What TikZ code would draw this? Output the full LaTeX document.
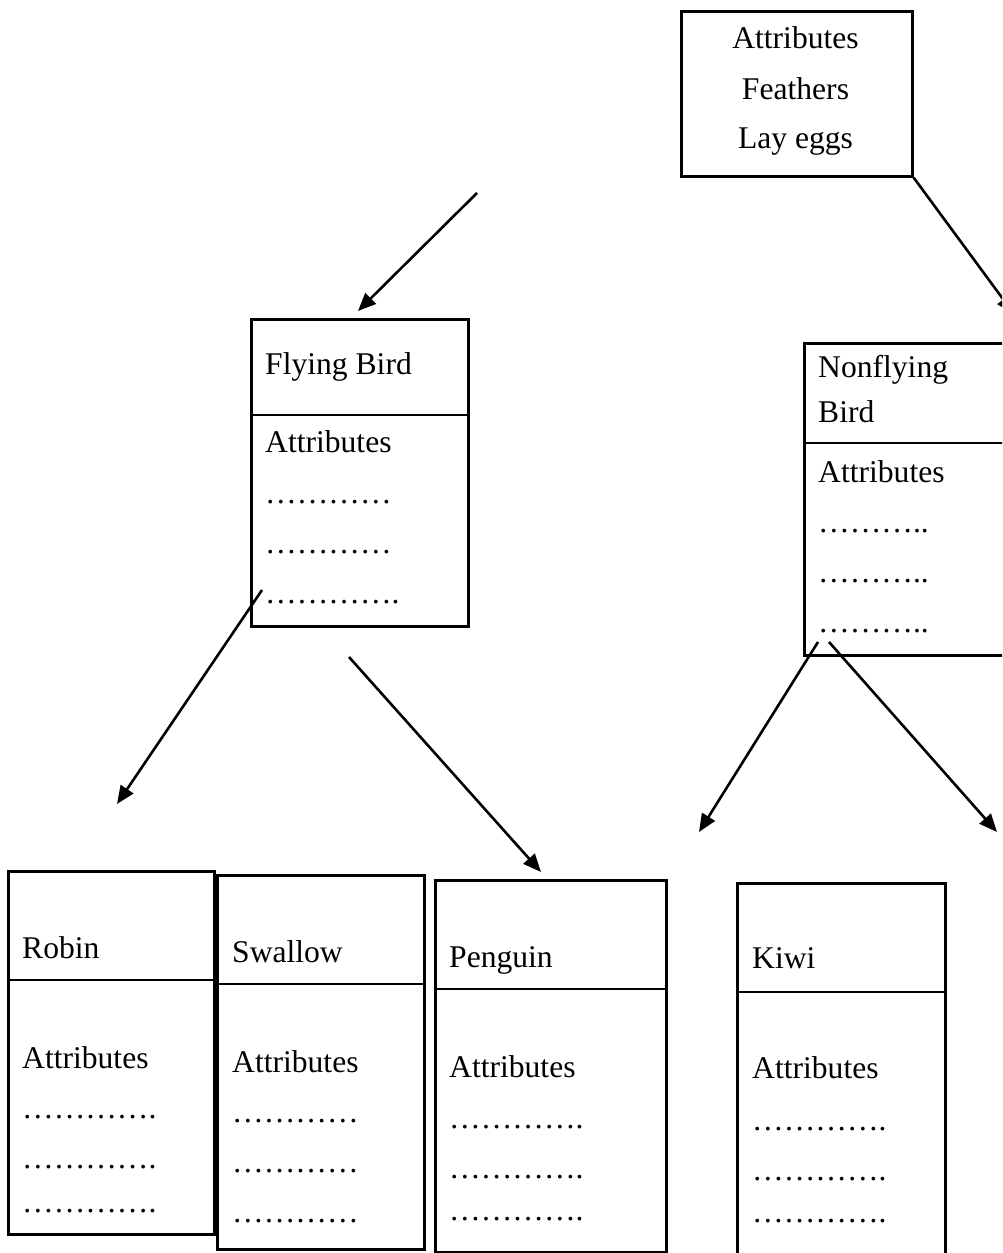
\documentclass[tikz,border=0pt]{standalone}
\usepackage{fontspec}
\setmainfont{Liberation Serif}
\usetikzlibrary{arrows.meta}

\tikzset{
  classbox/.style={draw, line width=2.7pt, inner sep=0pt, anchor=north west},
  divider/.style={line width=2.7pt},
  lbl/.style={inner sep=0pt, anchor=base west, font=\fontsize{31.6}{38}\selectfont},
  clbl/.style={lbl, anchor=base},
  link/.style={line width=2.6pt, -{Triangle[length=18pt,width=15pt]}},
}

\begin{document}
\begin{tikzpicture}[x=1pt,y=-1pt]
\clip (0,0) rectangle (1002,1253);
\fill[white] (0,0) rectangle (1002,1253);

% root class
\node[classbox, minimum width=231pt, minimum height=165pt] (root) at (680,10) {};
\node[clbl] (rootA) at (795.5,48) {Attributes};
\node[clbl] (rootF) at (795.5,99) {Feathers};
\node[clbl] (rootL) at (795.5,148) {Lay eggs};

% flying bird
\node[classbox, minimum width=217pt, minimum height=307pt] (fly) at (250,318) {};
\draw[divider] (fly.west |- 0,415) -- (fly.east |- 0,415);
\node[lbl] (flyN) at (265,374) {Flying Bird};
\node[lbl] (flyA) at (265,452) {Attributes};
\node[lbl] (flyD1) at (265,503) {…………};
\node[lbl] (flyD2) at (265,553) {…………};
\node[lbl] (flyD3) at (265,603) {………….};

% nonflying bird
\node[classbox, minimum width=220pt, minimum height=312pt] (nonfly) at (803,342) {};
\draw[divider] (nonfly.west |- 0,443) -- (nonfly.east |- 0,443);
\node[lbl] (nonN1) at (818,377) {Nonflying};
\node[lbl] (nonN2) at (818,422) {Bird};
\node[lbl] (nonA) at (818,482) {Attributes};
\node[lbl] (nonD1) at (818,532) {………..};
\node[lbl] (nonD2) at (818,582) {………..};
\node[lbl] (nonD3) at (818,632) {………..};

% robin
\node[classbox, minimum width=206pt, minimum height=363pt] (robin) at (7,870) {};
\draw[divider] (robin.west |- 0,980) -- (robin.east |- 0,980);
\node[lbl] (robN) at (22,958) {Robin};
\node[lbl] (robA) at (22,1068) {Attributes};
\node[lbl] (robD1) at (22,1118) {………….};
\node[lbl] (robD2) at (22,1168) {………….};
\node[lbl] (robD3) at (22,1212) {………….};

% swallow
\node[classbox, minimum width=207pt, minimum height=374pt] (swal) at (216,874) {};
\draw[divider] (swal.west |- 0,984) -- (swal.east |- 0,984);
\node[lbl] (swaN) at (232,962) {Swallow};
\node[lbl] (swaA) at (232,1072) {Attributes};
\node[lbl] (swaD1) at (232,1122) {…………};
\node[lbl] (swaD2) at (232,1172) {…………};
\node[lbl] (swaD3) at (232,1222) {…………};

% penguin
\node[classbox, minimum width=231pt, minimum height=372pt] (peng) at (434,879) {};
\draw[divider] (peng.west |- 0,989) -- (peng.east |- 0,989);
\node[lbl] (penN) at (449,967) {Penguin};
\node[lbl] (penA) at (449,1077) {Attributes};
\node[lbl] (penD1) at (449,1128) {………….};
\node[lbl] (penD2) at (449,1178) {………….};
\node[lbl] (penD3) at (449,1220) {………….};

% kiwi
\node[classbox, minimum width=208pt, minimum height=400pt] (kiwi) at (736,882) {};
\draw[divider] (kiwi.west |- 0,992) -- (kiwi.east |- 0,992);
\node[lbl] (kiwN) at (752,968) {Kiwi};
\node[lbl] (kiwA) at (752,1078) {Attributes};
\node[lbl] (kiwD1) at (752,1130) {………….};
\node[lbl] (kiwD2) at (752,1180) {………….};
\node[lbl] (kiwD3) at (752,1222) {………….};

% connector ends
\coordinate (flyIn0) at (477,193);
\coordinate (flyIn1) at (358,311);
\coordinate (nonIn) at (1014,314);
\coordinate (flyOutL) at (262,590);
\coordinate (robTip) at (117,804);
\coordinate (flyOutR) at (349,657);
\coordinate (penTip) at (541,872);
\coordinate (nonOutL) at (818,642);
\coordinate (nonTipL) at (699,832);
\coordinate (nonOutR) at (829,642);
\coordinate (nonTipR) at (997,832);

% connectors
\draw[link] (flyIn0) -- (flyIn1);
\draw[link] (root.south east) -- (nonIn);
\draw[link] (flyOutL) -- (robTip);
\draw[link] (flyOutR) -- (penTip);
\draw[link] (nonOutL) -- (nonTipL);
\draw[link] (nonOutR) -- (nonTipR);
\end{tikzpicture}
\end{document}
